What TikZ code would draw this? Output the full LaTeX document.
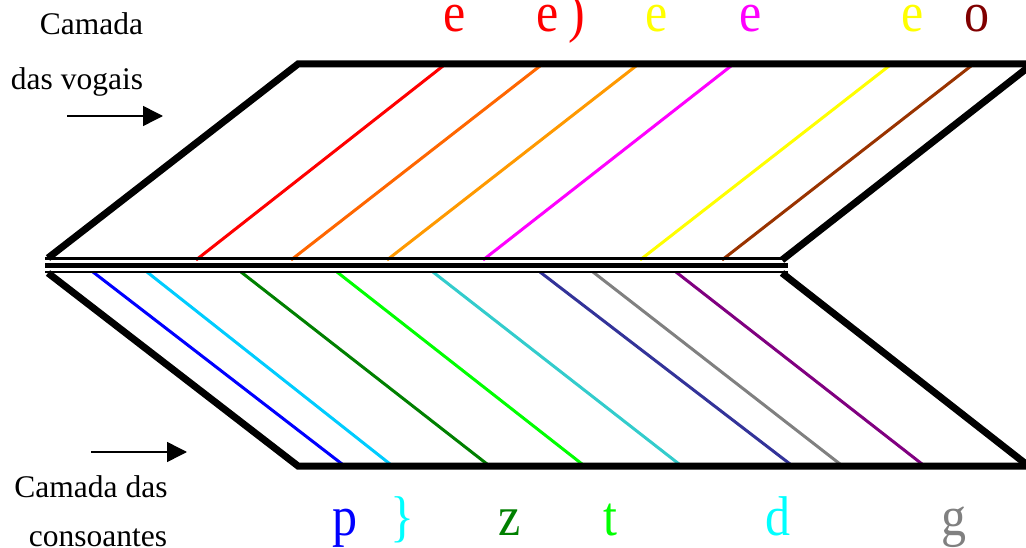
\documentclass[tikz,border=0pt]{standalone}
\usepackage{fontspec}
\setmainfont{Liberation Serif}
\usetikzlibrary{arrows.meta}
\definecolor{cOrA}{HTML}{FF6600}
\definecolor{cOrB}{HTML}{FF9900}
\definecolor{cMag}{HTML}{FF00FF}
\definecolor{cYel}{HTML}{FFFF00}
\definecolor{cBrn}{HTML}{993300}
\definecolor{cBlu}{HTML}{0000FF}
\definecolor{cSky}{HTML}{00CCFF}
\definecolor{cGrn}{HTML}{008000}
\definecolor{cLim}{HTML}{00FF00}
\definecolor{cTea}{HTML}{33CCCC}
\definecolor{cInd}{HTML}{333399}
\definecolor{cGry}{HTML}{808080}
\definecolor{cPur}{HTML}{800080}
\definecolor{cCya}{HTML}{00FFFF}
\definecolor{cMar}{HTML}{800000}
\newcommand{\tall}[1]{\scalebox{1}[1.12]{#1}}
\begin{document}
\begin{tikzpicture}[x=1pt,y=-1pt,
  border/.style={line width=7pt},
  stripe/.style={line width=3pt},
  lab/.style={anchor=base, inner sep=0pt, font=\fontsize{50}{50}\selectfont},
  side/.style={anchor=base, inner sep=0pt, font=\fontsize{31.5}{40}\selectfont},
  arr/.style={line width=1.5pt, -{Triangle[length=20pt,width=20pt]}}]
\useasboundingbox (0,0) rectangle (1026,548);
\clip (0,0) rectangle (1026,548);
% upper stripes
\foreach \b/\t/\c in {196/443/red, 291/540/cOrA, 387/636/cOrB, 483/731/cMag, 640/889/cYel, 722/971/cBrn}
  \draw[stripe, \c] (\b,260) -- (\t,66);
% lower stripes
\foreach \b/\t/\c in {93/342/cBlu, 147/390/cSky, 241/487/cGrn, 337/582/cLim, 433/679/cTea, 540/790/cInd, 593/840/cGry, 676/922/cPur}
  \draw[stripe, \c] (\b,272) -- (\t,464);
% borders
\draw[border] (1040,64) -- (298,64) -- (48,258);
\draw[border] (48,273) -- (298,466) -- (1040,466);
\draw[border] (782,260) -- (1040,58);
\draw[border] (782,273) -- (1040,475);
% middle lines
\draw[line width=3pt] (45,259) -- (787,259);
\draw[line width=5pt] (45,265.5) -- (788,265.5);
\draw[line width=2.5pt] (45,272) -- (788,272);
% top labels
\node[lab, red] (v1) at (455,32) {\tall{e}};
\node[lab, red, anchor=base west] (v2) at (536,32) {\tall{e\kern 10pt)}};
\node[lab, cYel] (v3) at (657,32) {\tall{e}};
\node[lab, cMag] (v4) at (751,32) {\tall{e}};
\node[lab, cYel] (v5) at (913,32) {\tall{e}};
\node[lab, cMar] (v6) at (977,32) {\tall{o}};
% bottom labels
\node[lab, cBlu] (k1) at (345,535) {\tall{p}};
\node[lab, cCya] (k2) at (402,535) {\tall{\}}};
\node[lab, cGrn] (k3) at (510,535) {\tall{z}};
\node[lab, cLim] (k4) at (610,535) {\tall{t}};
\node[lab, cCya] (k5) at (778,535) {\tall{d}};
\node[lab, cGry] (k6) at (954,535) {\tall{g}};
% side texts
\node[side] (t1) at (91.5,35) {Camada};
\node[side] (t2) at (77,90) {das vogais};
\node[side] (t3) at (91,497) {Camada das};
\node[side] (t4) at (98,546) {consoantes};
% arrows
\coordinate (a1) at (67,116);
\coordinate (a2) at (163,116);
\coordinate (b1) at (91,452);
\coordinate (b2) at (187,452);
\draw[arr] (a1) -- (a2);
\draw[arr] (b1) -- (b2);
\end{tikzpicture}
\end{document}
